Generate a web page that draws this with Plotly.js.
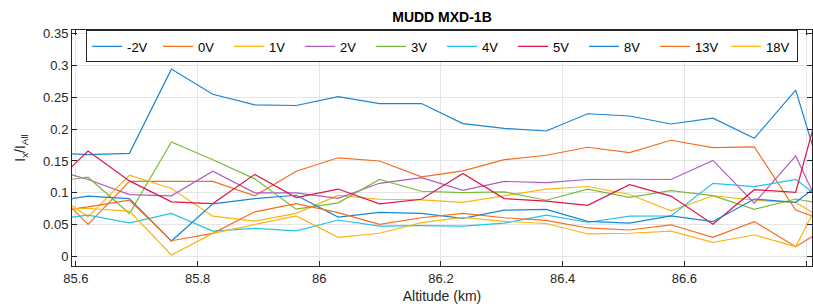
<!DOCTYPE html>
<html>
<head>
<meta charset="utf-8">
<script src="https://cdn.plot.ly/plotly-3.0.1.min.js"></script>
<style>html,body{margin:0;padding:0;background:#fff;}#chart{width:813px;height:307px;}</style>
</head>
<body>
<div id="chart"></div>
<script>
// Altitude samples (km); first and last lie just outside the visible range
const altitude = [85.552, 85.620, 85.688, 85.757, 85.825, 85.894, 85.962, 86.031, 86.099, 86.168,
                  86.236, 86.304, 86.373, 86.441, 86.510, 86.578, 86.647, 86.715, 86.783, 86.852];

const seriesNames = ['-2V', '0V', '1V', '2V', '3V', '4V', '5V', '8V', '13V', '18V'];

const vMinus2 = [0.163, 0.160, 0.162, 0.294, 0.2545, 0.238, 0.237, 0.251, 0.240, 0.240,
                 0.2085, 0.201, 0.197, 0.224, 0.2205, 0.208, 0.217, 0.1855, 0.261, 0.044];
const v0 = [0.116, 0.0505, 0.118, 0.118, 0.118, 0.0953, 0.134, 0.155, 0.150, 0.125,
            0.1345, 0.152, 0.159, 0.1715, 0.163, 0.1825, 0.171, 0.172, 0.073, 0.050];
const v1 = [0.107, 0.0625, 0.1276, 0.1068, 0.0635, 0.0557, 0.068, 0.096, 0.090, 0.089,
            0.085, 0.096, 0.106, 0.110, 0.0975, 0.072, 0.0955, 0.0887, 0.085, 0.046];
const v2 = [0.140, 0.121, 0.0974, 0.0953, 0.134, 0.100, 0.100, 0.0913, 0.115, 0.124,
            0.104, 0.118, 0.116, 0.121, 0.1214, 0.121, 0.151, 0.084, 0.158, 0.018];
const v3 = [0.1164, 0.1245, 0.0677, 0.1797, 0.152, 0.122, 0.0745, 0.0844, 0.121, 0.1026,
            0.1005, 0.1016, 0.0885, 0.106, 0.093, 0.1035, 0.0956, 0.0743, 0.0904, 0.079];
const v4 = [0.057, 0.065, 0.053, 0.0677, 0.040, 0.0443, 0.0406, 0.0575, 0.048, 0.0486,
            0.048, 0.0525, 0.065, 0.054, 0.0635, 0.064, 0.115, 0.1097, 0.1213, 0.071];
const v5 = [0.103, 0.1656, 0.1188, 0.086, 0.0833, 0.129, 0.0927, 0.106, 0.0827, 0.090,
            0.1305, 0.091, 0.087, 0.0805, 0.113, 0.095, 0.0508, 0.105, 0.101, 0.343];
const v8 = [0.085, 0.0948, 0.091, 0.0245, 0.0828, 0.091, 0.0963, 0.062, 0.0695, 0.068,
            0.060, 0.073, 0.074, 0.0555, 0.0525, 0.064, 0.055, 0.0904, 0.0852, 0.135];
const v13 = [0.069, 0.078, 0.0885, 0.025, 0.0365, 0.0703, 0.0833, 0.069, 0.0508, 0.061,
             0.068, 0.061, 0.0568, 0.045, 0.0418, 0.050, 0.0304, 0.055, 0.0157, 0.056];
const v18 = [0.0755, 0.0755, 0.0714, 0.0026, 0.0365, 0.0505, 0.064, 0.0304, 0.0367, 0.0533,
             0.0617, 0.0555, 0.052, 0.0356, 0.0367, 0.040, 0.0226, 0.034, 0.0157, 0.144];

const xTicks = [85.6, 85.8, 86, 86.2, 86.4, 86.6, 86.8];
const yTicks = [0, 0.05, 0.1, 0.15, 0.2, 0.25, 0.3, 0.35];
const yTickText = ['0', '0.05', '0.1', '0.15', '0.2', '0.25', '0.3', '0.35'];

const colors = ['#1a86d0', '#f86c1d', '#fbb512', '#b05cc0', '#79bb38', '#22c3ee', '#dc1747',
                '#1a86d0', '#f86c1d', '#fbb512'];
const allSeries = [vMinus2, v0, v1, v2, v3, v4, v5, v8, v13, v18];

const traces = allSeries.map((vals, i) => ({
  x: altitude, y: vals, type: 'scatter', mode: 'lines', name: seriesNames[i],
  line: {color: colors[i], width: 1.2}
}));

const font = 'Liberation Sans, Arial, Helvetica, sans-serif';
const layout = {
  width: 813, height: 307,
  margin: {l: 72, r: 1, t: 30, b: 41, pad: 0},
  paper_bgcolor: '#ffffff', plot_bgcolor: '#ffffff',
  font: {family: font, size: 13, color: '#262626'},
  title: {text: '<b>MUDD MXD-1B</b>', font: {family: font, size: 14, color: '#000'},
          x: 0.5, xref: 'paper', y: 0.945, yref: 'container', yanchor: 'middle'},
  showlegend: true,
  legend: {orientation: 'h', x: 0.019, y: 0.998, xanchor: 'left', yanchor: 'top',
           bgcolor: '#ffffff', bordercolor: '#262626', borderwidth: 1,
           font: {family: font, size: 13, color: '#000'},
           entrywidth: 26, entrywidthmode: 'pixels', itemwidth: 30, tracegroupgap: 0},
  xaxis: {range: [85.5936, 86.8098], tickvals: xTicks, ticktext: xTicks.map(String),
          showgrid: true, gridcolor: '#e5e5e5', gridwidth: 1, zeroline: false,
          showline: true, linecolor: '#262626', linewidth: 1, mirror: 'ticks',
          ticks: 'inside', ticklen: 5, tickcolor: '#262626',
          tickfont: {family: font, size: 13, color: '#262626'},
          title: {text: 'Altitude (km)', font: {family: font, size: 14, color: '#262626'}, standoff: 6}},
  yaxis: {range: [-0.0146, 0.3553], tickvals: yTicks, ticktext: yTickText,
          showgrid: true, gridcolor: '#e5e5e5', gridwidth: 1, zeroline: false,
          showline: true, linecolor: '#262626', linewidth: 1, mirror: 'ticks',
          ticks: 'inside', ticklen: 5, tickcolor: '#262626',
          tickfont: {family: font, size: 13, color: '#262626'},
          title: {text: 'I<sub>x</sub>/I<sub>All</sub>', font: {family: font, size: 14, color: '#262626'}, standoff: 14}}
};

Plotly.newPlot('chart', traces, layout, {displayModeBar: false, staticPlot: true});
</script>
</body>
</html>
